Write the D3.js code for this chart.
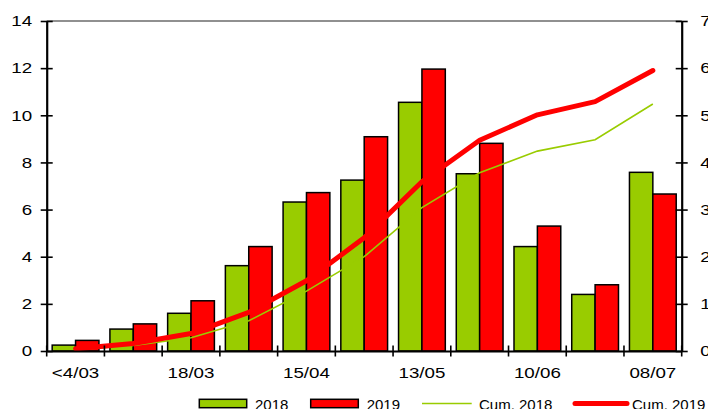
<!DOCTYPE html>
<html><head><meta charset="utf-8">
<script src="https://cdn.jsdelivr.net/npm/d3@7"></script>
<style>body{margin:0;background:#fff;overflow:hidden} svg{display:block} text{font-family:Arial,"Liberation Sans",sans-serif;fill:#000}</style>
</head><body><svg id="c" width="708" height="409"></svg>
<script>
const categories = ["<4/03","04/03","18/03","01/04","15/04","29/04","13/05","27/05","10/06","24/06","08/07"];
const tickLabels = ["<4/03","","18/03","","15/04","","13/05","","10/06","","08/07"];
const bars2018 = [0.25,0.93,1.6,3.62,6.32,7.25,10.55,7.52,4.43,2.4,7.58];
const bars2019 = [0.45,1.15,2.13,4.43,6.72,9.09,11.96,8.81,5.3,2.81,6.66];
const cum2018 = [0.3,1.2,2.8,6.4,12.7,20.0,30.4,37.8,42.4,44.8,52.4];
const cum2019 = [0.5,1.6,3.7,8.2,14.9,24.0,35.9,44.7,50.1,52.9,59.5];
const leftTicks = [0,2,4,6,8,10,12,14];
const rightTicks = [0,10,20,30,40,50,60,70];
const seriesNames = ["2018","2019","Cum. 2018","Cum. 2019"];
const colors = {g:"#99CC00", r:"#FF0000"};

const svg = d3.select("#c");
const L=46.7, R=681.7, T=21, B=351;
const x = d3.scaleBand().domain(categories).range([L,R]).paddingInner(0.19).paddingOuter(0.095);
const sub = d3.scaleBand().domain(["2018","2019"]).range([0,x.bandwidth()]);
const y = d3.scaleLinear().domain([0,14]).range([B,T]);
const y2 = d3.scaleLinear().domain([0,70]).range([B,T]);
const SX = 1.25;

// top border
svg.append("line").attr("x1",L).attr("x2",R).attr("y1",T).attr("y2",T).attr("stroke","#222").attr("stroke-width",1.2);

// bars
const g = svg.append("g");
categories.forEach((c,i)=>{
  [["2018",bars2018[i],colors.g],["2019",bars2019[i],colors.r]].forEach(([s,v,col])=>{
    g.append("rect").attr("x",x(c)+sub(s)).attr("y",y(v)).attr("width",sub.bandwidth()).attr("height",y(0)-y(v))
     .attr("fill",col).attr("stroke","#000").attr("stroke-width",1.5);
  });
});

// lines
const line = d3.line().x((d,i)=>x(categories[i])+x.bandwidth()/2).y(d=>y2(d));
svg.append("path").datum(cum2018).attr("d",line).attr("fill","none").attr("stroke",colors.g).attr("stroke-width",1.6);
svg.append("path").datum(cum2019).attr("d",line).attr("fill","none").attr("stroke",colors.r).attr("stroke-width",5).attr("stroke-linecap","round").attr("stroke-linejoin","round");

// left axis
const ax = svg.append("g").attr("transform",`translate(${L},0)`)
  .call(d3.axisLeft(y).tickValues(leftTicks).tickSize(6).tickSizeOuter(0).tickFormat(d3.format("d")));
ax.select(".domain").attr("stroke-width",2.2);
ax.selectAll(".tick line").attr("x1",6).attr("stroke-width",1.6);
ax.selectAll(".tick text").attr("x",-14.5/SX).attr("transform",`scale(${SX},1)`).style("font-size","15px").attr("font-family",null);

// right axis
const ar = svg.append("g").attr("transform",`translate(${R},0)`)
  .call(d3.axisRight(y2).tickValues(rightTicks).tickSize(6).tickSizeOuter(0).tickFormat(d3.format("d")));
ar.select(".domain").attr("stroke-width",2.2);
ar.selectAll(".tick line").attr("x1",-6).attr("stroke-width",1.6);
ar.selectAll(".tick text").attr("x",18.5/SX).attr("transform",`scale(${SX},1)`).style("font-size","15px").attr("font-family",null);

// bottom axis
const ab = svg.append("g").attr("transform",`translate(0,${B})`)
  .call(d3.axisBottom(x).tickSize(0).tickSizeOuter(0).tickFormat((d,i)=>tickLabels[i]));
ab.select(".domain").attr("stroke-width",2.2);
ab.selectAll(".tick text").attr("y",27.3).attr("dy","0").style("font-size","15px").attr("font-family",null)
  .attr("transform",function(){return `scale(${SX},1)`;});
// rescale x positions of bottom labels around their tick centers
ab.selectAll(".tick").each(function(){
  d3.select(this).select("text").attr("transform",`scale(${SX},1)`);
});
const bounds = d3.range(categories.length+1).map(i=>L+i*x.step());
ab.selectAll(".bt").data(bounds).enter().append("line").attr("class","bt")
  .attr("x1",d=>d).attr("x2",d=>d).attr("y1",-5.5).attr("y2",5.5).attr("stroke","#000").attr("stroke-width",1.6);

// legend
const lg = svg.append("g");
const legendItems = [
  {name:seriesNames[0], type:"rect", col:colors.g, x0:199.3, w:47.4, tx:255},
  {name:seriesNames[1], type:"rect", col:colors.r, x0:310.7, w:47.6, tx:366.7},
  {name:seriesNames[2], type:"line", col:colors.g, x0:422, w:49.7, sw:1.6, tx:479},
  {name:seriesNames[3], type:"line", col:colors.r, x0:575, w:52, sw:5, tx:632}
];
legendItems.forEach(it=>{
  if(it.type==="rect"){
    lg.append("rect").attr("x",it.x0).attr("y",399.3).attr("width",it.w).attr("height",8.4).attr("fill",it.col).attr("stroke","#000").attr("stroke-width",1.5);
  } else {
    lg.append("line").attr("x1",it.x0).attr("x2",it.x0+it.w).attr("y1",403.5).attr("y2",403.5).attr("stroke",it.col).attr("stroke-width",it.sw).attr("stroke-linecap",it.sw>2?"round":"butt");
  }
  lg.append("text").attr("x",it.tx).attr("y",410).style("font-size","15px").text(it.name);
});
</script></body></html>
